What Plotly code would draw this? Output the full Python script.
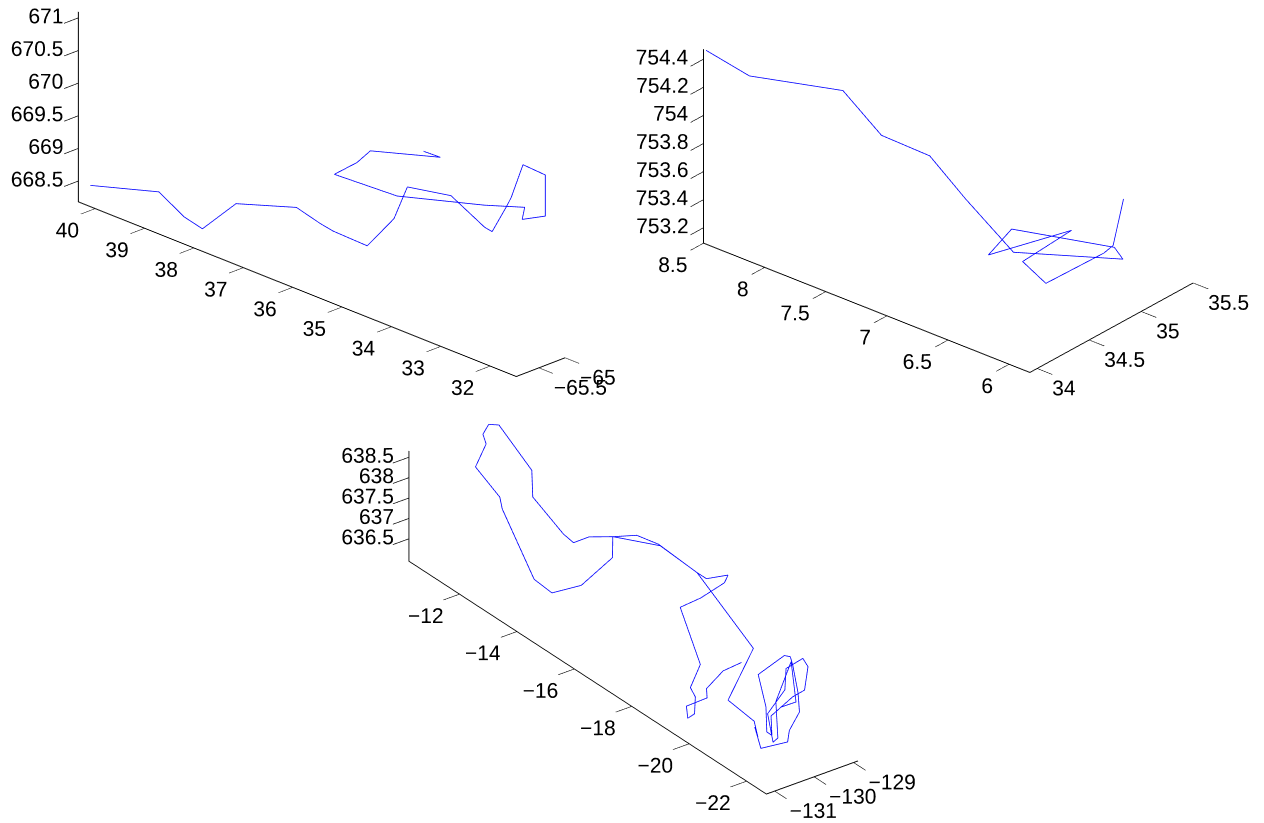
import numpy as np
import plotly.graph_objects as go

# ---------------- panel A (top left) ----------------
a_lon = [-65.73, -65.73, -65.73, -65.73, -65.73, -65.68, -65.65, -65.63, -65.61, -65.58,
         -65.55, -65.53, -65.51, -65.48, -65.45, -65.33, -65.18, -65.03, -65.00, -65.00,
         -65.13, -65.13, -65.23, -65.33, -65.38, -65.38, -65.38, -65.43, -65.43]
a_lat = [40.31, 38.92, 38.41, 38.04, 37.36, 36.19, 35.74, 35.50, 34.83, 34.32,
         34.08, 33.22, 33.10, 32.59, 32.47, 32.31, 32.37, 32.29, 31.87, 31.87,
         32.20, 32.15, 32.86, 34.52, 35.74, 35.28, 35.01, 33.54, 33.88]
a_alt = [668.38, 668.70, 668.47, 668.40, 668.99, 669.27, 669.15, 669.10, 669.07, 669.63,
         670.18, 670.30, 670.23, 669.99, 669.95, 670.34, 670.42, 670.90, 670.86, 670.23,
         670.12, 670.32, 670.17, 669.84, 669.82, 670.14, 670.40, 670.76, 670.75]
a_lon_ticks = [-65.5, -65.0]
a_lat_ticks = [32, 33, 34, 35, 36, 37, 38, 39, 40]
a_alt_ticks = [668.5, 669.0, 669.5, 670.0, 670.5, 671.0]

# ---------------- panel B (top right) ----------------
b_x = [33.93, 34.03, 34.33, 34.43, 34.53, 34.58, 34.63, 35.13, 35.13, 34.73,
       34.53, 34.93, 34.73, 34.73, 35.03, 35.13, 35.23]
b_y = [8.48, 8.21, 7.70, 7.47, 7.16, 6.91, 6.56, 6.09, 6.16, 6.66,
       6.68, 6.34, 6.57, 6.38, 6.16, 6.17, 6.17]
b_z = [754.47, 754.34, 754.29, 754.01, 753.93, 753.69, 753.41, 753.32, 753.38, 753.50,
       753.39, 753.52, 753.30, 753.21, 753.38, 753.39, 753.68]
b_x_ticks = [34.0, 34.5, 35.0, 35.5]
b_y_ticks = [6.0, 6.5, 7.0, 7.5, 8.0, 8.5]
b_z_ticks = [753.2, 753.4, 753.6, 753.8, 754.0, 754.2, 754.4]

# ---------------- panel C (bottom) ----------------
c_x = [-130.21, -130.21, -130.21, -130.21, -130.61, -130.81, -130.71, -130.61, -130.51, -130.41,
       -130.31, -129.81, -129.21, -129.01, -129.31, -129.31, -129.31, -129.61, -129.61, -129.71,
       -130.01, -130.01, -129.91, -129.81, -129.91, -129.51, -129.46, -129.21, -129.01, -129.21,
       -129.31, -129.31, -129.31, -129.31, -129.31, -129.31, -129.31, -129.21, -129.91, -130.21,
       -130.21, -130.21, -130.21, -130.31, -130.01, -130.01, -129.71, -129.71, -129.71, -129.71,
       -129.81, -130.21, -130.21, -130.21, -130.11, -130.11, -129.81, -129.61, -129.61, -129.61,
       -129.81, -129.81, -130.11, -130.11, -130.01, -130.01, -129.71, -129.71, -129.91]
c_y = [-20.45, -19.81, -19.23, -19.25, -19.08, -19.40, -19.50, -19.39, -19.08, -19.29,
       -18.45, -18.47, -18.48, -18.33, -17.99, -17.66, -16.38, -15.14, -15.13, -14.18,
       -13.57, -12.95, -11.70, -11.48, -10.77, -10.59, -10.41, -10.27, -10.35, -11.77,
       -11.94, -13.01, -13.36, -13.90, -14.74, -15.56, -16.32, -17.53, -20.45, -19.98,
       -20.89, -21.02, -20.91, -21.26, -21.78, -21.84, -21.78, -21.73, -21.55, -21.46,
       -21.39, -21.03, -21.30, -21.33, -21.37, -21.34, -21.68, -21.82, -21.94, -21.76,
       -21.45, -21.41, -21.22, -21.41, -21.44, -21.37, -21.49, -21.66, -21.41]
c_z = [637.80, 637.30, 636.60, 636.38, 636.24, 636.16, 636.28, 636.61, 636.66, 637.29,
       638.27, 638.33, 638.50, 638.55, 638.41, 638.41, 638.48, 638.24, 637.72, 636.64,
       636.28, 636.33, 637.45, 637.60, 638.05, 638.39, 638.53, 638.62, 638.57, 638.18,
       637.64, 637.22, 637.17, 637.56, 637.95, 638.36, 638.49, 638.31, 638.04, 636.66,
       636.56, 636.23, 636.43, 636.10, 636.39, 636.70, 637.02, 637.47, 638.05, 638.23,
       638.26, 637.77, 637.10, 636.50, 636.40, 636.86, 637.38, 637.54, 638.17, 638.29,
       637.97, 637.43, 636.86, 636.25, 636.33, 637.19, 638.12, 637.21, 637.04]
c_x_ticks = [-131.0, -130.0, -129.0]
c_y_ticks = [-22, -20, -18, -16, -14, -12]
c_z_ticks = [636.5, 637.0, 637.5, 638.0, 638.5]

# axis limits (x, y, z) of each panel
a_lim = ([-65.93, -65.0], [31.47, 40.34], [668.18, 671.09])
b_lim = ([33.93, 35.5], [5.83, 8.5], [753.09, 754.47])
c_lim = ([-131.21, -128.89], [-22.69, -10.24], [635.95, 638.65])

# ---------------- styling / view setup ----------------
W, H = 1264, 823
PX = 408.7      # screen pixels per scene unit (full-height scene viewport)
DIST = 1.24     # orthographic camera distance
FONT = dict(family="Liberation Sans, Arial, Helvetica, sans-serif", size=21, color="black")
LINE = dict(color="#0000ff", width=1.6)

# extra screen offset (right, down) of each tick-label group, in px
ZLAB_SHIFT = (5, -2)
YLAB_SHIFT = (4, -7)
XLAB_SHIFT = (-5, -9)

# view of each panel: azimuth, elevation, box edge lengths (px), box centre (px)
a_view = dict(az=225.53, el=23.04, edges=(67.8, 620.9, 205.0), centre=(321.7, 186.4))
b_view = dict(az=220.37, el=27.78, edges=(250.4, 425.4, 217.6), centre=(948.35, 167.8))
c_view = dict(az=233.30, el=29.05, edges=(113.4, 594.0, 125.1), centre=(633.45, 604.7))


def label(v):
    return f"{v:g}".replace("-", "\u2212")


def axis(rng, vals):
    return dict(range=rng, autorange=False, tickmode="array", tickvals=vals,
                showticklabels=False,
                showbackground=False, showgrid=False, zeroline=False,
                showline=True, linecolor="black", linewidth=2,
                ticks="outside", ticklen=20, tickwidth=1.5, tickcolor="black",
                showspikes=False, title=dict(text=""))


def basis(view):
    az, el = np.radians(view["az"]), np.radians(view["el"])
    d = np.array([np.cos(az) * np.cos(el), np.sin(az) * np.cos(el), np.sin(el)])
    r = np.array([-np.sin(az), np.cos(az), 0.0])
    u = np.array([-np.sin(el) * np.cos(az), -np.sin(el) * np.sin(az), np.cos(el)])
    return d, r, u


def camera(view, dom_px):
    d, r, u = basis(view)
    (x0, x1), (y0, y1) = dom_px
    shift_r = view["centre"][0] - (x0 + x1) / 2
    shift_d = view["centre"][1] - (y0 + y1) / 2
    c = (-shift_r * r + shift_d * u) / PX
    e = c + DIST * d
    return dict(eye=dict(x=e[0], y=e[1], z=e[2]),
                center=dict(x=c[0], y=c[1], z=c[2]),
                up=dict(x=0, y=0, z=1),
                projection=dict(type="orthographic"))


def nudge(view, lim, pair, shift_px):
    """Data-space offset along two axes that moves a point by shift_px on screen."""
    _, r, u = basis(view)
    cols = []
    for k in pair:
        per_unit = view["edges"][k] / (lim[k][1] - lim[k][0])
        cols.append([per_unit * r[k], per_unit * u[k]])
    sol = np.linalg.solve(np.array(cols).T, [shift_px[0], -shift_px[1]])
    off = [0.0, 0.0, 0.0]
    off[pair[0]], off[pair[1]] = sol
    return off


def domain(dom_px):
    (x0, x1), (y0, y1) = dom_px
    return dict(x=[x0 / W, x1 / W], y=[1 - y1 / H, 1 - y0 / H])


def tick_text(scene, view, lim, xt, yt, zt):
    """Tick labels for the three axes, anchored next to the drawn axis lines."""
    (x0, x1), (y0, y1), (z0, z1) = lim
    oz = nudge(view, lim, (0, 2), ZLAB_SHIFT)
    oy = nudge(view, lim, (0, 2), YLAB_SHIFT)
    ox = nudge(view, lim, (1, 2), XLAB_SHIFT)
    groups = (
        ([x0 + oz[0]] * len(zt), [y1] * len(zt), [v + oz[2] for v in zt], zt, "middle left"),
        ([x0 + oy[0]] * len(yt), list(yt), [z0 + oy[2]] * len(yt), yt, "bottom left"),
        (list(xt), [y0 + ox[1]] * len(xt), [z0 + ox[2]] * len(xt), xt, "bottom right"),
    )
    out = []
    for xs, ys, zs, vals, pos in groups:
        out.append(go.Scatter3d(x=xs, y=ys, z=zs, mode="text",
                                text=[label(v) for v in vals], textposition=pos,
                                textfont=FONT, scene=scene, hoverinfo="skip",
                                showlegend=False))
    return out


def scene_layout(view, lim, dom_px, xt, yt, zt):
    ex, ey, ez = view["edges"]
    return dict(domain=domain(dom_px),
                xaxis=axis(lim[0], xt), yaxis=axis(lim[1], yt), zaxis=axis(lim[2], zt),
                aspectmode="manual",
                aspectratio=dict(x=ex / PX, y=ey / PX, z=ez / PX),
                camera=camera(view, dom_px),
                bgcolor="rgba(0,0,0,0)")


# pixel domains of the three scenes (full height, so they share one scale)
dom_a = ((0, 632), (0, 823))
dom_b = ((632, 1264), (0, 823))
dom_c = ((316, 948), (0, 823))

fig = go.Figure()
fig.add_trace(go.Scatter3d(x=a_lon, y=a_lat, z=a_alt, mode="lines", line=LINE,
                           scene="scene", hoverinfo="skip"))
fig.add_trace(go.Scatter3d(x=b_x, y=b_y, z=b_z, mode="lines", line=LINE,
                           scene="scene2", hoverinfo="skip"))
fig.add_trace(go.Scatter3d(x=c_x, y=c_y, z=c_z, mode="lines", line=LINE,
                           scene="scene3", hoverinfo="skip"))
fig.add_traces(tick_text("scene", a_view, a_lim, a_lon_ticks, a_lat_ticks, a_alt_ticks))
fig.add_traces(tick_text("scene2", b_view, b_lim, b_x_ticks, b_y_ticks, b_z_ticks))
fig.add_traces(tick_text("scene3", c_view, c_lim, c_x_ticks, c_y_ticks, c_z_ticks))

fig.update_layout(
    width=W, height=H, margin=dict(l=0, r=0, t=0, b=0),
    paper_bgcolor="white", plot_bgcolor="white", showlegend=False,
    scene=scene_layout(a_view, a_lim, dom_a, a_lon_ticks, a_lat_ticks, a_alt_ticks),
    scene2=scene_layout(b_view, b_lim, dom_b, b_x_ticks, b_y_ticks, b_z_ticks),
    scene3=scene_layout(c_view, c_lim, dom_c, c_x_ticks, c_y_ticks, c_z_ticks),
)

fig.write_html("out.html", config={"displayModeBar": False})
